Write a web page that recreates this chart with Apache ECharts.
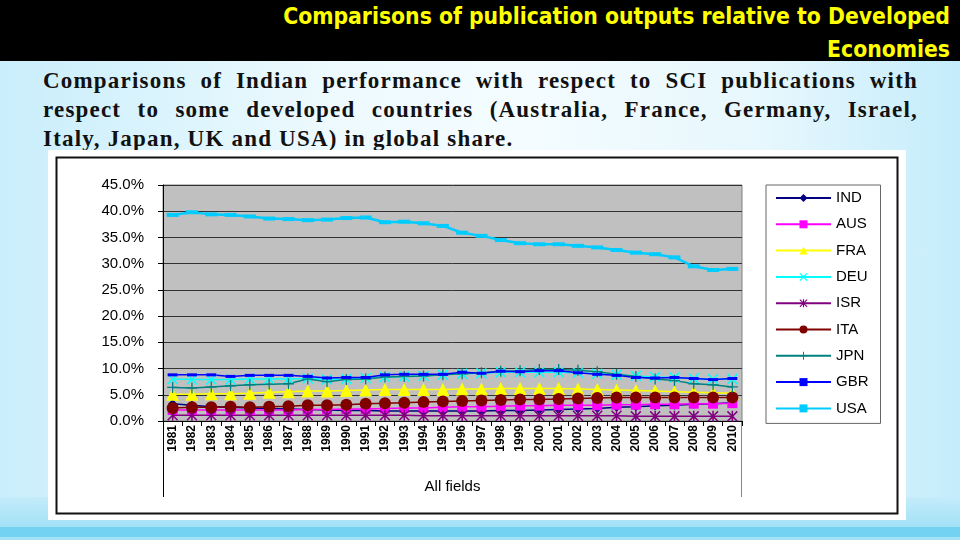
<!DOCTYPE html>
<html>
<head>
<meta charset="utf-8">
<script src="https://cdn.jsdelivr.net/npm/echarts@6/dist/echarts.min.js"></script>
<style>
  html, body { margin: 0; padding: 0; }
  body {
    width: 960px; height: 540px; position: relative; overflow: hidden;
    background: linear-gradient(to right, #c9eefb 0%, #eefafe 35%, #f4fcff 55%, #e6f7fd 80%, #c4ecfb 100%);
  }
  #header {
    position: absolute; left: 0; top: 0; width: 960px; height: 61px; background: #000;
  }
  #title {
    position: absolute; right: 10px; top: 0; text-align: right;
    color: #ffff00; font-family: "DejaVu Sans Condensed", "Liberation Sans", sans-serif;
    font-weight: bold; font-size: 22.7px; line-height: 33px;
  }
  #body-text {
    position: absolute; left: 43px; top: 66px; width: 875px;
    font-family: "Liberation Serif", "DejaVu Serif", serif; font-weight: bold;
    font-size: 23px; line-height: 29px; color: #111; letter-spacing: 1.2px;
  }
  #body-text div { white-space: nowrap; }
  #body-text .j { text-align: justify; text-align-last: justify; }
  #band1 { position: absolute; left: 0; top: 497px; width: 960px; height: 30px;
    background: linear-gradient(to bottom, #c4ecfa, #a2e1f6); }
  #band2 { position: absolute; left: 0; top: 527px; width: 960px; height: 10px; background: #73d1f1; }
  #band3 { position: absolute; left: 0; top: 537px; width: 960px; height: 3px; background: #a4e2f5; }
  #main { position: absolute; left: 0; top: 0; width: 960px; height: 540px; }
</style>
</head>
<body>
<div id="header"><div id="title">Comparisons of publication outputs relative to Developed<br>Economies</div></div>
<div id="body-text">
  <div class="j">Comparisons of Indian performance with respect to SCI publications with</div>
  <div class="j">respect to some developed countries (Australia, France, Germany, Israel,</div>
  <div>Italy, Japan, UK and USA) in global share.</div>
</div>
<div id="band1"></div><div id="band2"></div><div id="band3"></div>
<div id="main"></div>
<script>
// years on the category axis
const years = ['1981','1982','1983','1984','1985','1986','1987','1988','1989','1990',
  '1991','1992','1993','1994','1995','1996','1997','1998','1999','2000',
  '2001','2002','2003','2004','2005','2006','2007','2008','2009','2010'];
const yTicks = [0, 5, 10, 15, 20, 25, 30, 35, 40, 45];

// global share, percent
const IND = [3.3, 3.0, 2.7, 2.6, 2.5, 2.4, 2.3, 2.2, 2.1, 2.0, 2.0, 1.9, 1.9, 1.9, 1.9, 1.9, 1.9, 2.0, 2.0, 2.1,
  2.2, 2.3, 2.4, 2.6, 2.7, 2.9, 3.0, 3.2, 3.3, 3.5];
const AUS = [2.1, 2.1, 2.1, 2.1, 2.1, 2.1, 2.1, 2.2, 2.2, 2.3, 2.3, 2.4, 2.5, 2.5, 2.6, 2.7, 2.7, 2.8, 2.9, 2.9,
  3.0, 3.0, 3.0, 3.1, 3.1, 3.2, 3.2, 3.3, 3.3, 3.4];
const FRA = [5.1, 5.1, 5.2, 5.2, 5.3, 5.5, 5.6, 5.7, 5.7, 5.8, 5.9, 6.0, 6.0, 6.0, 6.0, 6.1, 6.1, 6.2, 6.2, 6.2,
  6.2, 6.1, 6.0, 5.9, 5.8, 5.7, 5.6, 5.5, 5.4, 5.3];
const DEU = [8.0, 7.9, 7.9, 7.9, 8.0, 8.0, 8.0, 8.1, 7.9, 8.0, 8.2, 8.4, 8.5, 8.6, 8.8, 9.0, 9.1, 9.3, 9.3, 9.3,
  9.3, 9.2, 9.0, 8.8, 8.6, 8.4, 8.3, 8.1, 8.0, 8.0];
const ISR = [1.1, 1.1, 1.1, 1.1, 1.1, 1.1, 1.1, 1.1, 1.1, 1.1, 1.1, 1.1, 1.1, 1.0, 1.0, 1.0, 1.0, 1.0, 1.0, 1.0,
  1.0, 1.0, 1.0, 1.0, 0.9, 0.9, 0.9, 0.9, 0.9, 0.9];
const ITA = [2.5, 2.6, 2.6, 2.7, 2.6, 2.7, 2.8, 3.0, 3.0, 3.1, 3.3, 3.4, 3.5, 3.6, 3.7, 3.8, 3.9, 4.0, 4.1, 4.1,
  4.2, 4.3, 4.4, 4.5, 4.5, 4.5, 4.5, 4.5, 4.5, 4.5];
const JPN = [6.4, 6.3, 6.5, 6.7, 6.9, 7.0, 7.1, 8.0, 7.5, 7.9, 8.0, 8.4, 8.5, 8.6, 8.8, 9.0, 9.2, 9.5, 9.6, 9.8,
  9.8, 9.7, 9.4, 8.9, 8.5, 8.0, 7.7, 7.1, 6.9, 6.5];
const GBR = [8.8, 8.8, 8.8, 8.5, 8.7, 8.7, 8.7, 8.5, 8.2, 8.3, 8.3, 8.8, 8.9, 8.9, 8.9, 9.3, 9.1, 9.5, 9.4, 9.6,
  9.6, 9.2, 8.9, 8.7, 8.3, 8.2, 8.3, 8.1, 7.9, 8.1];
const USA = [39.3, 39.8, 39.4, 39.3, 39.0, 38.6, 38.5, 38.3, 38.4, 38.7, 38.8, 37.9, 38.0, 37.7, 37.2, 35.9, 35.3, 34.5, 33.9, 33.7,
  33.7, 33.4, 33.1, 32.6, 32.1, 31.8, 31.2, 29.5, 28.8, 29.0];

const xMark = 'path://M0,1L1,0L5,4L9,0L10,1L6,5L10,9L9,10L5,6L1,10L0,9L4,5Z';
const starMark = 'path://M0,1L1,0L5,4L9,0L10,1L6,5L10,9L9,10L5,6L1,10L0,9L4,5Z M4.3,0H5.7V10H4.3Z';
const plusMark = 'path://M4.4,0H5.6V4.4H10V5.6H5.6V10H4.4V5.6H0V4.4H4.4Z';

function line(name, data, color, symbol, size, width) {
  return {
    name: name, type: 'line', data: data, symbol: symbol, symbolSize: size,
    showSymbol: true, animation: false,
    lineStyle: { color: color, width: width || 1.5 },
    itemStyle: { color: color, borderWidth: 0 }
  };
}

const chart = echarts.init(document.getElementById('main'));
chart.setOption({
  textStyle: { fontFamily: 'Liberation Sans, Arial, sans-serif' },
  graphic: [
    { type: 'rect', z: -10, shape: { x: 48, y: 150, width: 858, height: 370 }, style: { fill: '#fff' } },
    { type: 'rect', z: -9, shape: { x: 56.5, y: 157.5, width: 841, height: 356 }, style: { fill: 'none', stroke: '#111', lineWidth: 2 } },
    { type: 'line', shape: { x1: 163.5, y1: 421, x2: 163.5, y2: 497 }, style: { stroke: '#000', lineWidth: 1 } },
    { type: 'line', shape: { x1: 741.5, y1: 421, x2: 741.5, y2: 497 }, style: { stroke: '#888', lineWidth: 1 } }
  ],
  grid: {
    left: 163, right: 218, top: 185, bottom: 119, show: true,
    backgroundColor: '#c0c0c0', borderColor: '#808080', borderWidth: 1
  },
  legend: {
    orient: 'vertical', left: 766, top: 185,
    backgroundColor: '#fff', borderColor: '#666', borderWidth: 1,
    padding: [5, 12, 7, 9], itemGap: 10.3, itemWidth: 55, itemHeight: 10,
    textStyle: { fontSize: 15, color: '#000', fontFamily: 'Liberation Sans, Arial, sans-serif', lineHeight: 16 },
    data: ['IND', 'AUS', 'FRA', 'DEU', 'ISR', 'ITA', 'JPN', 'GBR', 'USA']
  },
  xAxis: {
    type: 'category', data: years, boundaryGap: true,
    name: 'All fields', nameLocation: 'middle', nameGap: 58,
    nameTextStyle: { fontSize: 15, color: '#000' },
    axisLine: { lineStyle: { color: '#000', width: 1 } },
    axisTick: { show: true, length: 5, lineStyle: { color: '#000' } },
    axisLabel: { rotate: 90, interval: 0, fontSize: 12, fontWeight: 'bold', color: '#000', margin: 4 },
    splitLine: { show: false }
  },
  yAxis: {
    type: 'value', min: yTicks[0], max: yTicks[yTicks.length - 1], interval: 5,
    axisLine: { show: true, lineStyle: { color: '#000', width: 1 } },
    axisTick: { show: true, length: 5, lineStyle: { color: '#000' } },
    axisLabel: { fontSize: 15, color: '#000', margin: 19, formatter: v => v.toFixed(1) + '%' },
    splitLine: { show: true, lineStyle: { color: '#333', width: 1 } }
  },
  series: [
    line('IND', IND, '#000080', 'diamond', 9),
    line('AUS', AUS, '#ff00ff', 'rect', 10),
    line('FRA', FRA, '#ffff00', 'triangle', 13),
    line('DEU', DEU, '#00ffff', xMark, 11),
    line('ISR', ISR, '#800080', starMark, 11),
    line('ITA', ITA, '#800000', 'circle', 12),
    line('JPN', JPN, '#008080', plusMark, 11),
    line('GBR', GBR, '#0000ff', 'rect', [10, 3]),
    line('USA', USA, '#00ccff', 'rect', [12, 4], 2.5)
  ]
});
</script>
</body>
</html>
